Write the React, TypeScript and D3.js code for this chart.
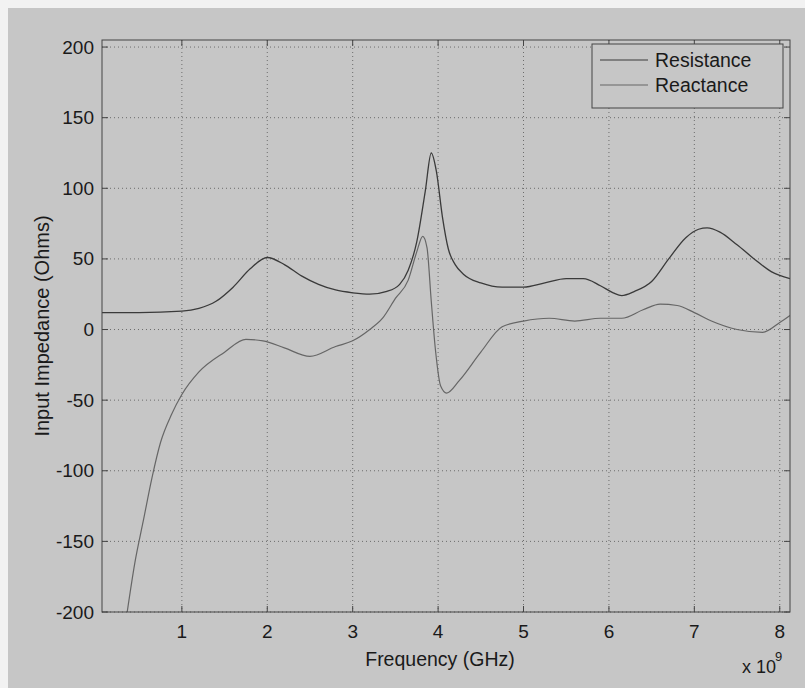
import React from "react";
import * as d3 from "d3";

const xTicks = [1, 2, 3, 4, 5, 6, 7, 8];
const yTicks = [-200, -150, -100, -50, 0, 50, 100, 150, 200];

const resFreq = [0.065, 0.5, 1.0, 1.2, 1.4, 1.6, 1.8, 2.0, 2.2, 2.4, 2.6, 2.8, 3.0, 3.2, 3.4, 3.55, 3.65, 3.75, 3.85, 3.92, 3.98, 4.05, 4.12, 4.2, 4.3, 4.5, 4.75, 5.0, 5.25, 5.5, 5.7, 5.9, 6.05, 6.15, 6.3, 6.5, 6.7, 6.9, 7.05, 7.15, 7.3, 7.5, 7.7, 7.9, 8.12];
const resistance = [12, 12, 13, 15, 20, 30, 43, 51, 46, 38, 32, 28, 26, 25, 27, 32, 42, 62, 98, 125, 112, 80, 57, 46, 39, 33, 30, 30, 33, 36, 36, 31, 26, 24, 27, 34, 50, 65, 71, 72, 69, 60, 50, 41, 36];

const reaFreq = [0.36, 0.45, 0.55, 0.65, 0.75, 0.88, 1.0, 1.2, 1.5, 1.75, 1.95, 2.2, 2.5, 2.8, 3.0, 3.2, 3.35, 3.5, 3.65, 3.75, 3.82, 3.87, 3.92, 3.97, 4.03, 4.1, 4.25, 4.5, 4.75, 5.0, 5.3, 5.6, 5.9, 6.15, 6.4, 6.6, 6.8, 7.0, 7.2, 7.5, 7.8, 8.0, 8.12];
const reactance = [-200, -165, -135, -105, -80, -60, -46, -30, -16, -7, -8, -13, -19, -12, -8, 0, 8, 22, 35, 55, 66, 58, 20, -15, -40, -45, -36, -16, 2, 6, 8, 6, 8, 8, 14, 18, 17, 12, 6, 0, -2, 5, 10];

const seriesNames = ["Resistance", "Reactance"];

export default function App() {
  const left = 102, right = 790, top = 40, bottom = 612;
  const x = d3.scaleLinear().domain([0.065, 8.12]).range([left, right]);
  const y = d3.scaleLinear().domain([-200, 205]).range([bottom, top]);
  const font = "'Liberation Sans', Arial, sans-serif";

  const line = d3.line<number>().curve(d3.curveMonotoneX);
  const resPath = line(resFreq.map((f, i) => [x(f), y(resistance[i])]) as any);
  const reaPath = line(reaFreq.map((f, i) => [x(f), y(reactance[i])]) as any);

  const bg = "#c6c6c6";
  const gridC = "#6c6c6c";
  const axisC = "#444444";
  const txt = "#1a1a1a";
  const resC = "#3a3a3a";
  const reaC = "#666666";

  return (
    <svg width={805} height={688} style={{ position: "absolute", left: 0, top: 0 }}>
      <rect x={0} y={0} width={805} height={688} fill="#f2f2f2" />
      <rect x={8} y={8} width={797} height={680} fill={bg} />
      <defs>
        <clipPath id="plot">
          <rect x={left} y={top} width={right - left} height={bottom - top} />
        </clipPath>
      </defs>
      {xTicks.map((t) => (
        <line key={"gx" + t} x1={x(t)} x2={x(t)} y1={top} y2={bottom} stroke={gridC} strokeWidth={1} strokeDasharray="1,3" />
      ))}
      {yTicks.map((t) => (
        <line key={"gy" + t} x1={left} x2={right} y1={y(t)} y2={y(t)} stroke={gridC} strokeWidth={1} strokeDasharray="1,3" />
      ))}
      <g clipPath="url(#plot)">
        <path d={resPath || ""} fill="none" stroke={resC} strokeWidth={1.3} />
        <path d={reaPath || ""} fill="none" stroke={reaC} strokeWidth={1.2} />
      </g>
      <rect x={left} y={top} width={right - left} height={bottom - top} fill="none" stroke={axisC} strokeWidth={1} />
      {xTicks.map((t) => (
        <g key={"tx" + t}>
          <line x1={x(t)} x2={x(t)} y1={bottom} y2={bottom - 6} stroke={axisC} />
          <line x1={x(t)} x2={x(t)} y1={top} y2={top + 6} stroke={axisC} />
          <text x={x(t)} y={631} fontSize={19} fontFamily={font} fill={txt} textAnchor="middle" dominantBaseline="central">
            {t}
          </text>
        </g>
      ))}
      {yTicks.map((t) => (
        <g key={"ty" + t}>
          <line x1={left} x2={left + 6} y1={y(t)} y2={y(t)} stroke={axisC} />
          <line x1={right} x2={right - 6} y1={y(t)} y2={y(t)} stroke={axisC} />
          <text x={94} y={y(t)} fontSize={19} fontFamily={font} fill={txt} textAnchor="end" dominantBaseline="central">
            {t}
          </text>
        </g>
      ))}
      <text x={440} y={659} fontSize={19.5} fontFamily={font} fill={txt} textAnchor="middle" dominantBaseline="central">
        Frequency (GHz)
      </text>
      <text x={742} y={667} fontSize={18} fontFamily={font} fill={txt} dominantBaseline="central">
        x 10
      </text>
      <text x={775} y={656} fontSize={13} fontFamily={font} fill={txt} dominantBaseline="central">
        9
      </text>
      <text
        transform={`translate(42, ${(top + bottom) / 2}) rotate(-90)`}
        fontSize={20}
        fontFamily={font}
        fill={txt}
        textAnchor="middle"
        dominantBaseline="central"
      >
        Input Impedance (Ohms)
      </text>
      <rect x={592} y={44} width={191} height={64} fill={bg} stroke={axisC} strokeWidth={1} />
      {seriesNames.map((n, i) => (
        <g key={n}>
          <line x1={600} x2={648} y1={60 + i * 25} y2={60 + i * 25} stroke={i === 0 ? resC : reaC} strokeWidth={1.2} />
          <text x={655} y={60 + i * 25} fontSize={19.5} fontFamily={font} fill={txt} dominantBaseline="central">
            {n}
          </text>
        </g>
      ))}
    </svg>
  );
}
